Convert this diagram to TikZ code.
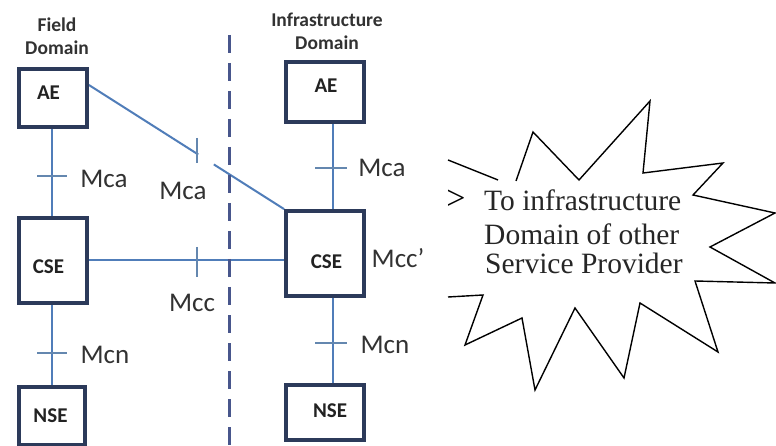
\documentclass[tikz,border=0pt]{standalone}
\usepackage{fontspec}
\setmainfont{Liberation Serif}
\newfontfamily\calib{Carlito}
\usetikzlibrary{backgrounds,calc}
\definecolor{boxedge}{RGB}{44,58,90}
\definecolor{conn}{RGB}{80,125,185}
\definecolor{tickc}{RGB}{100,135,175}
\definecolor{dashc}{RGB}{72,86,140}
\definecolor{lbl}{RGB}{50,50,50}
\definecolor{boxtxt}{RGB}{34,34,34}
\begin{document}
\begin{tikzpicture}[x=1pt,y=-1pt,
  ebox/.style={draw=boxedge, line width=3.8pt, fill=white, inner sep=0pt},
  boxtext/.style={font=\calib\bfseries\fontsize{21}{21}\selectfont, text=boxtxt, inner sep=0pt},
  title/.style={font=\calib\bfseries\fontsize{19.5}{23}\selectfont, text=lbl, align=center, inner sep=0pt, anchor=north},
  iflabel/.style={font=\calib\fontsize{27}{27}\selectfont, text=lbl, inner sep=0pt},
  link/.style={draw=conn, line width=2pt},
  tickmark/.style={draw=tickc, line width=2pt},
  divider/.style={draw=dashc, line width=3pt, dash pattern=on 18pt off 10pt},
  burst/.style={draw=black, line width=1.4pt, line join=miter},
  bursttext/.style={font=\fontsize{29.5}{32}\selectfont, inner sep=0pt, anchor=base west, text=black!85}
]
\useasboundingbox (0,0) rectangle (776,446);

% titles
\node[title] (ftitle) at (57,18) {Field\\Domain};
\node[title] (ititle) at (327,13) {Infrastructure\\Domain};

% field domain boxes
\node[ebox, minimum width=68pt, minimum height=58pt] (fae) at (53,98) {};
\node[ebox, minimum width=68pt, minimum height=85pt] (fcse) at (53,260.5) {};
\node[ebox, minimum width=66pt, minimum height=58pt] (fnse) at (52,416) {};
\node[boxtext] (faeL) at (48.5,93) {AE};
\node[boxtext] (fcseL) at (48.5,267) {CSE};
\node[boxtext] (fnseL) at (50.5,415.5) {NSE};

% infrastructure domain boxes
\node[ebox, minimum width=78pt, minimum height=60pt] (iae) at (325,92) {};
\node[ebox, minimum width=78pt, minimum height=85pt] (icse) at (325,253.5) {};
\node[ebox, minimum width=78pt, minimum height=55pt] (inse) at (325,412.5) {};
\node[boxtext] (iaeL) at (326,86) {AE};
\node[boxtext] (icseL) at (326.5,261.5) {CSE};
\node[boxtext] (inseL) at (330,410.5) {NSE};

% helper coordinates
\path (fae.south) ++(-1,0) coordinate (faeS);
\path (fcse.north) ++(-1,0) coordinate (fcseN);
\path (fcse.south) ++(-1,0) coordinate (fcseS);
\path (iae.south) ++(8,0) coordinate (iaeS);
\path (icse.north) ++(8,0) coordinate (icseN);
\path (icse.south) ++(8,0) coordinate (icseS);
\path (inse.north) ++(8,0) coordinate (inseN);
\path (fae.east) ++(0,-13) coordinate (faeE);

\begin{scope}[on background layer]
  \fill[white] (0,0) rectangle (776,446);
  \draw[link] (faeS) -- (fcseN);
  \draw[link] (fcseS) -- (fcseS |- fnse.north);
  \draw[link] (iaeS) -- (icseN);
  \draw[link] (icseS) -- (inseN);
  \draw[link] (fcse.east) -- (fcse.east -| icse.west);
  \draw[link] (faeE) -- ($(faeE)!0.56!(icse.north west)$);
  \draw[link] ($(faeE)!0.64!(icse.north west)$) -- (icse.north west);
\end{scope}

% ticks
\coordinate (tfmca) at (52,176);
\coordinate (tfmcn) at (52,353);
\coordinate (timca) at (331,168);
\coordinate (timcn) at (331,343);
\coordinate (tdiag) at (197,138);
\coordinate (tmcc) at (197,247);
\draw[tickmark] (tfmca) ++(-15,0) -- ++(30,0);
\draw[tickmark] (tfmcn) ++(-15,0) -- ++(30,0);
\draw[tickmark] (timca) ++(-16,0) -- ++(32,0);
\draw[tickmark] (timcn) ++(-16,0) -- ++(32,0);
\draw[tickmark] (tdiag) -- ++(0,25);
\draw[tickmark] (tmcc) -- ++(0,30);

% interface labels
\node[iflabel] (lfmca) at (104,179) {Mca};
\node[iflabel] (ldmca) at (183,191) {Mca};
\node[iflabel] (lmcc) at (192,303) {Mcc};
\node[iflabel] (lfmcn) at (105,355) {Mcn};
\node[iflabel] (limca) at (382,168) {Mca};
\node[iflabel] (limcc) at (398,258) {Mcc’};
\node[iflabel] (limcn) at (385,345) {Mcn};

% domain divider
\coordinate (dtop) at (229,35);
\coordinate (dbot) at (229,450);
\draw[divider] (dtop) -- (dbot);

% starburst
\draw[burst] (448,160) -- (498,180);
\draw[burst] (448,297) -- (483,295) -- (465,345) -- (522,318) -- (535,390)
  -- (575,308) -- (624,378) -- (640,303) -- (718,352) -- (695,281)
  -- (775,283) -- (710,247) -- (775,213) -- (693,195) -- (723,163)
  -- (643,173) -- (650,101) -- (579,180) -- (533,132) -- (516,181);
\node[font=\fontsize{34}{34}\selectfont, inner sep=0pt] (gt) at (456,200) {>};
\node[bursttext] (bt1) at (484,211) {To infrastructure};
\node[bursttext] (bt2) at (484,245) {Domain of other};
\node[bursttext] (bt3) at (485,274) {Service Provider};
\end{tikzpicture}
\end{document}
